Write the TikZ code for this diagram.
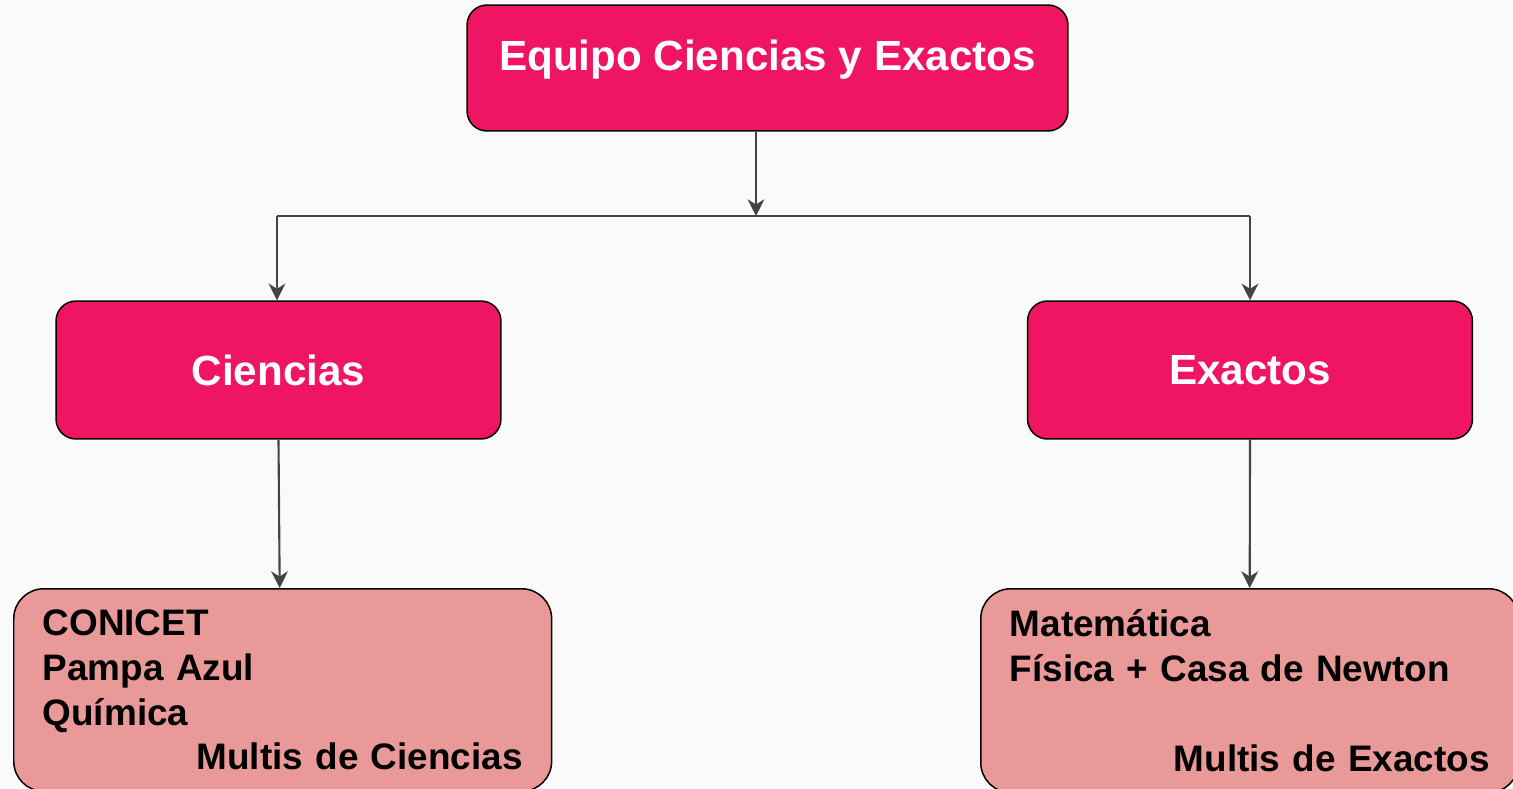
\documentclass[tikz,border=0pt]{standalone}
\usepackage{fontspec}
\setmainfont{Liberation Sans}
\usetikzlibrary{arrows.meta}

\definecolor{equipopink}{RGB}{239,21,98}
\definecolor{multisrose}{RGB}{234,153,153}
\definecolor{linegray}{RGB}{68,68,68}
\definecolor{bggray}{RGB}{250,250,250}

\tikzset{
    teambox/.style={draw=black, line width=0.85pt, fill=equipopink, rounded corners=0.4cm,
        text=white, font=\fontsize{24}{28}\selectfont\bfseries},
    multibox/.style={draw=black, line width=0.85pt, fill=multisrose, rounded corners=0.6cm,
        anchor=north west, align=left, text width=9.6cm, inner xsep=0.58cm, inner ysep=0.42cm,
        font=\fontsize{21}{25.5}\selectfont\bfseries},
    link/.style={draw=linegray, line width=1.2pt},
    arrowlink/.style={link, -{Stealth[length=9.5pt, width=9.5pt, inset=3pt]}}
}

\begin{document}
\begin{tikzpicture}[x=0.02cm, y=-0.02cm]

    \fill[bggray] (0,0) rectangle (1513,788);
    \useasboundingbox (0,0) rectangle (1513,788);

    \node[teambox, minimum width=12.02cm, minimum height=2.52cm, text height=17pt, text depth=14pt] (equipo) at (767.5,68) {Equipo Ciencias y Exactos};

    \node[teambox, minimum width=8.9cm, minimum height=2.76cm] (cien) at (278.5,370) {Ciencias};
    \node[teambox, minimum width=8.9cm, minimum height=2.76cm] (exac) at (1250,370) {Exactos};

    \node[multibox] (cmult) at (13,588) {CONICET\\Pampa Azul\\Química\\\hspace*{\fill}Multis de Ciencias};
    \node[multibox] (emult) at (980,588) {Matemática\\Física + Casa de Newton\\\mbox{}\\\hspace*{\fill}Multis de Exactos};

    \coordinate (hub) at (756,216);
    \coordinate (hubl) at (277,216);
    \coordinate (hubr) at (1250,216);

    \draw[arrowlink] (equipo.south -| hub) -- (hub);
    \draw[link] (hubl) -- (hubr);
    \draw[arrowlink] (hubl) -- (hubl |- cien.north);
    \draw[arrowlink] (hubr) -- (exac.north);

    \draw[arrowlink] (cien.south) -- ([xshift=-0.06cm]cmult.north);
    \draw[arrowlink] (exac.south) -- (emult.north);

\end{tikzpicture}
\end{document}
